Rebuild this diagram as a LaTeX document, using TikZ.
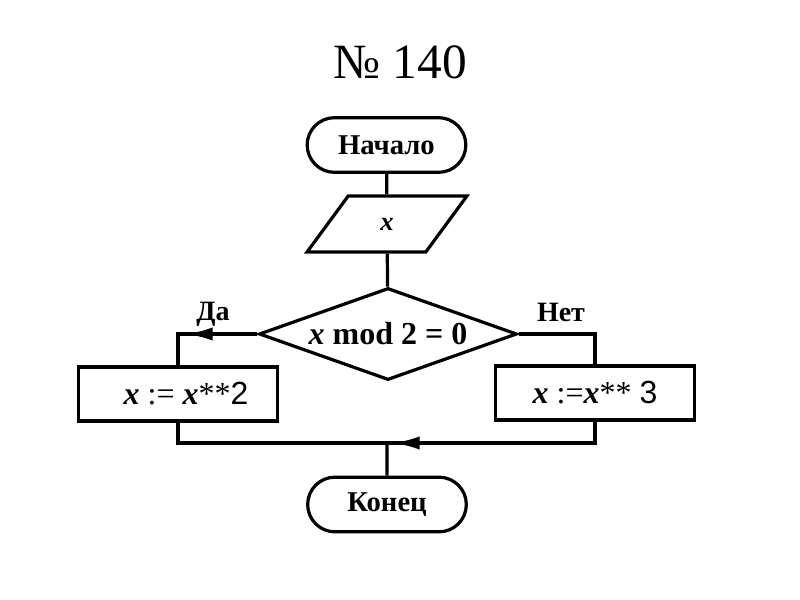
\documentclass[tikz,border=0pt]{standalone}
\usepackage{fontspec}
\setmainfont{Liberation Serif}
\newfontfamily\sansf{Liberation Sans}
\usetikzlibrary{shapes.geometric,shapes.misc,arrows.meta}

\tikzset{
  term/.style={draw, rounded rectangle, minimum width=119pt, minimum height=41pt, inner sep=0pt, font=\fontsize{21.5}{24}\selectfont\bfseries},
  io/.style={draw, trapezium, trapezium left angle=60, trapezium right angle=120, trapezium stretches=true, minimum width=120pt, minimum height=42pt, inner sep=0pt, font=\fontsize{20}{24}\selectfont\bfseries},
  decision/.style={draw, diamond, minimum width=193.5pt, minimum height=69pt, inner sep=0pt, aspect=2.8, font=\fontsize{24}{26}\selectfont\bfseries},
  proc/.style={draw, rectangle, minimum width=149pt, minimum height=40.5pt, inner sep=0pt, font=\fontsize{24}{26}\selectfont},
  lbl/.style={inner sep=0pt, font=\fontsize{21}{24}\selectfont\bfseries},
  arr/.style={-{Latex[length=20pt,width=10pt]}}
}

\begin{document}
\begin{tikzpicture}[x=0.75pt,y=0.75pt,yscale=-1,xscale=1,line width=2.4pt]
\useasboundingbox (0,0) rectangle (800,600);

% Title
\node (title) at (400,62) {\fontsize{37}{40}\selectfont № 140};

%Shapes
\node[term] (start) at (386.5,145) {Начало};
\node[io] (input) at (387,224) {\textit{x}};
\node[decision] (cond) at (388,334) {\textit{x} mod 2 = 0};
\node[proc] (yes) at (178,394) {\hspace*{12pt}\textbf{\textit{x}} := \textbf{\textit{x}}**{\sansf 2}};
\node[proc] (no) at (595,393) {\textbf{\textit{x}} :=\textbf{\textit{x}}** {\sansf 3}};
\node[term] (end) at (387,504.5) {Конец};

% Text Node
\node[lbl] (yeslbl) at (213,314) {Да};
\node[lbl] (nolbl) at (561,312) {Нет};

\coordinate (yesarr) at (186,334);
\coordinate (join) at (387,443);
\coordinate (joinarr) at (393,443);

%Lines
\draw (start) -- (input);
\draw (input) -- (cond);
\draw (cond.west) -| (yes.north);
\draw[arr] (cond.west) -- (yesarr);
\draw (cond.east) -| (no.north);
\draw (yes.south) |- (join) -| (no.south);
\draw[arr] (no.south) |- (joinarr);
\draw (join) -- (end);

\end{tikzpicture}
\end{document}
